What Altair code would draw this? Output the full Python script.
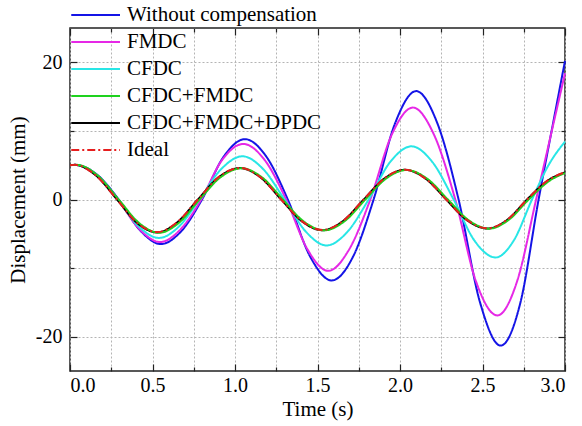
import altair as alt
import pandas as pd

FONT = "Liberation Serif"

series_names = ["Without compensation", "FMDC", "CFDC", "CFDC+FMDC", "CFDC+FMDC+DPDC", "Ideal"]
series_colors = ["#1414e6", "#e628e6", "#28e6e6", "#1ed21e", "#000000", "#e61e1e"]
series_dashes = [[1, 0], [1, 0], [1, 0], [1, 0], [1, 0], [8, 3, 2, 3]]

# Without compensation
t_wo = [0, 0.03, 0.165, 0.295, 0.425, 0.55, 0.675, 0.80, 0.93, 1.06, 1.19, 1.32, 1.455, 1.586,
        1.715, 1.84, 1.97, 2.098, 2.225, 2.355, 2.485, 2.61, 2.73, 2.84, 2.93, 3.0]
v_wo = [5.0, 5.05, 3.6, 0, -4.5, -6.5, -4.6, 0, 6.2, 8.8, 6.25, 0, -8.3, -11.8,
        -8.35, 0, 11.1, 15.8, 11.2, 0, -15.0, -21.3, -15.0, 0, 11.4, 20.2]
# FMDC
t_fm = [0, 0.03, 0.16, 0.29, 0.42, 0.545, 0.67, 0.795, 0.92, 1.05, 1.18, 1.31, 1.44, 1.565,
        1.69, 1.82, 1.95, 2.078, 2.205, 2.335, 2.46, 2.59, 2.71, 2.825, 2.92, 3.0]
v_fm = [5.0, 5.05, 3.6, 0, -4.3, -6.2, -4.35, 0, 5.7, 8.1, 5.75, 0, -7.3, -10.4,
        -7.35, 0, 9.45, 13.4, 9.5, 0, -11.9, -16.9, -11.9, 0, 10.0, 18.4]
# CFDC
t_cf = [0, 0.03, 0.16, 0.29, 0.415, 0.54, 0.66, 0.785, 0.915, 1.045, 1.17, 1.30, 1.43, 1.555,
        1.68, 1.81, 1.94, 2.07, 2.195, 2.325, 2.45, 2.58, 2.69, 2.80, 2.90, 3.0]
v_cf = [5.0, 5.05, 3.6, 0, -3.9, -5.6, -3.95, 0, 4.4, 6.3, 4.45, 0, -4.7, -6.7,
        -4.75, 0, 5.45, 7.75, 5.5, 0, -5.95, -8.45, -5.95, 0, 5.0, 8.45]
# CFDC+FMDC
t_cff = [0, 0.04, 0.165, 0.295, 0.42, 0.54, 0.66, 0.785, 0.91, 1.04, 1.165, 1.29, 1.415, 1.54,
         1.665, 1.79, 1.915, 2.04, 2.165, 2.29, 2.415, 2.54, 2.66, 2.78, 2.91, 3.0]
v_cff = [5.0, 5.05, 3.55, 0, -3.45, -4.85, -3.4, 0, 3.2, 4.55, 3.2, 0, -3.18, -4.5,
         -3.15, 0, 3.04, 4.3, 3.02, 0, -3.0, -4.25, -2.95, 0, 2.8, 3.85]
# CFDC+FMDC+DPDC
t_all = [0, 0.03, 0.155, 0.285, 0.405, 0.53, 0.65, 0.775, 0.90, 1.03, 1.155, 1.28, 1.405, 1.53,
         1.655, 1.78, 1.905, 2.03, 2.155, 2.28, 2.405, 2.53, 2.65, 2.77, 2.90, 3.0]
v_all = [5.0, 5.05, 3.55, 0, -3.4, -4.8, -3.33, 0, 3.22, 4.58, 3.22, 0, -3.17, -4.48,
         -3.13, 0, 3.05, 4.33, 3.05, 0, -3.0, -4.23, -2.97, 0, 2.83, 3.95]
# Ideal
t_id = [0, 0.03, 0.155, 0.285, 0.405, 0.53, 0.65, 0.775, 0.90, 1.03, 1.155, 1.28, 1.405, 1.53,
        1.655, 1.78, 1.905, 2.03, 2.155, 2.28, 2.405, 2.53, 2.65, 2.77, 2.90, 3.0]
v_id = [5.0, 5.05, 3.55, 0, -3.38, -4.75, -3.3, 0, 3.25, 4.6, 3.22, 0, -3.15, -4.45,
        -3.12, 0, 3.07, 4.35, 3.05, 0, -2.97, -4.2, -2.95, 0, 2.85, 3.97]

x_domain = [0, 3]
y_domain = [-25, 25]
x_major = [0, 0.5, 1.0, 1.5, 2.0, 2.5, 3.0]
x_minor = [0.25, 0.75, 1.25, 1.75, 2.25, 2.75]
y_major = [-20, 0, 20]
y_minor = [-10, 10]

# drawing order (legend order is set by the scale domain)
draw = [
    ("Without compensation", t_wo, v_wo),
    ("FMDC", t_fm, v_fm),
    ("CFDC", t_cf, v_cf),
    ("CFDC+FMDC+DPDC", t_all, v_all),
    ("CFDC+FMDC", t_cff, v_cff),
    ("Ideal", t_id, v_id),
]
rows = []
for name, ts, vs in draw:
    for t, v in zip(ts, vs):
        rows.append({"t": t, "v": v, "series": name})
df = pd.DataFrame(rows)

xscale = alt.Scale(domain=x_domain, nice=False, zero=False)
yscale = alt.Scale(domain=y_domain, nice=False, zero=False)

x_axis_main = alt.Axis(
    orient="bottom", values=sorted(x_major + x_minor),
    labelExpr="round(datum.value*4) % 2 == 0 ? format(datum.value, '.1f') : ''",
    grid=True, gridColor="#b4b4b4", gridDash=[2, 2], gridWidth=1,
    ticks=False, domain=False,
    labelFont=FONT, labelFontSize=20, labelColor="black", labelPadding=4,
    titleFont=FONT, titleFontSize=21, titleFontWeight=400, titleColor="black",
    titlePadding=3,
)
y_axis_main = alt.Axis(
    orient="left", values=sorted(y_major + y_minor),
    labelExpr="datum.value % 20 == 0 ? ('' + datum.value) : ''",
    grid=True, gridColor="#b4b4b4", gridDash=[2, 2], gridWidth=1,
    ticks=False, domain=False,
    labelFont=FONT, labelFontSize=20, labelColor="black", labelPadding=8,
    titleFont=FONT, titleFontSize=21, titleFontWeight=400, titleColor="black",
    titlePadding=7,
)

legend = alt.Legend(
    orient="none", legendX=0, legendY=-24,
    symbolType="M-1,0H4", symbolSize=380, symbolStrokeWidth=2,
    labelFont=FONT, labelFontSize=21, labelColor="black", labelOffset=35, labelLimit=400,
    rowPadding=6, padding=0, offset=0,
)

lines = alt.Chart(df).mark_line(strokeWidth=2, interpolate="monotone").encode(
    x=alt.X("t:Q", scale=xscale, axis=x_axis_main, title="Time (s)"),
    y=alt.Y("v:Q", scale=yscale, axis=y_axis_main, title="Displacement (mm)"),
    color=alt.Color("series:N", scale=alt.Scale(domain=series_names, range=series_colors),
                    legend=legend, title=None),
    strokeDash=alt.StrokeDash("series:N", scale=alt.Scale(domain=series_names, range=series_dashes),
                              legend=legend, title=None),
)


def tick_axis(orient, values, size):
    return alt.Axis(orient=orient, values=values, offset=-size, tickSize=size, ticks=True,
                    labels=False, domain=False, grid=False, tickColor="#222222", tickWidth=1.2)


def tick_layer(xo, xv, yo, yv, size):
    return alt.Chart(df).mark_point(opacity=0).encode(
        x=alt.X("t:Q", scale=xscale, axis=tick_axis(xo, xv, size), title=None),
        y=alt.Y("v:Q", scale=yscale, axis=tick_axis(yo, yv, size), title=None),
    )


layers = [
    lines,
    tick_layer("bottom", x_major, "left", y_major, 7),
    tick_layer("bottom", x_minor, "left", y_minor, 4),
    tick_layer("top", x_major, "right", y_major, 7),
    tick_layer("top", x_minor, "right", y_minor, 4),
]

chart = alt.layer(*layers).resolve_axis(x="independent", y="independent").properties(
    width=495, height=343,
    autosize=alt.AutoSizeParams(type="none"),
    padding={"left": 70, "top": 28, "right": 17, "bottom": 55},
).configure_view(stroke="#222222", strokeWidth=1.5).configure_axis(titleFontWeight="normal")

chart.save("out.html", embed_options={"renderer": "svg", "actions": False})
